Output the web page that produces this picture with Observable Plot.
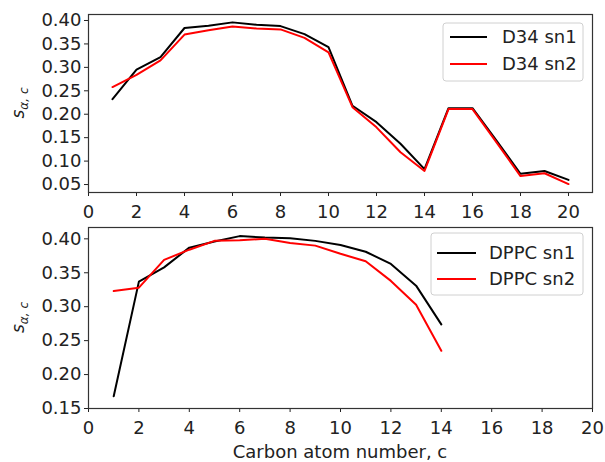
<!DOCTYPE html>
<html>
<head>
<meta charset="utf-8">
<script src="https://cdn.jsdelivr.net/npm/d3@7"></script>
<script src="https://cdn.jsdelivr.net/npm/@observablehq/plot@0.6"></script>
<style>
  html, body { margin: 0; padding: 0; background: #fff; }
  #chart { width: 605px; height: 462px; position: relative; }
  #chart svg { display: block; }
</style>
</head>
<body>
<div id="chart"></div>
<script>
// Carbon positions along each chain
const carbonD34 = [1, 2, 3, 4, 5, 6, 7, 8, 9, 10, 11, 12, 13, 14, 15, 16, 17, 18, 19, 20];
const carbonDPPC = [1, 2, 3, 4, 5, 6, 7, 8, 9, 10, 11, 12, 13, 14];

// Order parameters per carbon
const d34Sn1 = [0.232, 0.295, 0.322, 0.384, 0.389, 0.396, 0.391, 0.388, 0.371, 0.343, 0.218, 0.183, 0.137, 0.083, 0.213, 0.213, 0.144, 0.073, 0.079, 0.060];
const d34Sn2 = [0.258, 0.284, 0.315, 0.370, 0.379, 0.387, 0.383, 0.381, 0.363, 0.332, 0.215, 0.172, 0.119, 0.079, 0.211, 0.211, 0.140, 0.068, 0.074, 0.051];
const dppcSn1 = [0.168, 0.337, 0.358, 0.387, 0.396, 0.404, 0.402, 0.401, 0.397, 0.391, 0.381, 0.363, 0.331, 0.274];
const dppcSn2 = [0.323, 0.328, 0.369, 0.384, 0.397, 0.398, 0.400, 0.394, 0.390, 0.378, 0.367, 0.338, 0.303, 0.235];

// Axis ticks
const xTicks = [0, 2, 4, 6, 8, 10, 12, 14, 16, 18, 20];
const yTicksTop = [0.05, 0.10, 0.15, 0.20, 0.25, 0.30, 0.35, 0.40];
const yTicksBottom = [0.15, 0.20, 0.25, 0.30, 0.35, 0.40];

const seriesColors = ["#000000", "#ff0000"];
const FONT = "DejaVu Sans, sans-serif";

function rows(xs, ys) { return xs.map((c, i) => ({c, s: ys[i]})); }

function panel({height, marginTop, marginBottom, xDomain, yDomain, yTicks, series, labels, legendBox}) {
  const svg = Plot.plot({
    width: 605,
    height,
    marginLeft: 88,
    marginRight: 13,
    marginTop,
    marginBottom,
    style: {fontFamily: FONT, fontSize: "18px", color: "#222", background: "white", overflow: "visible"},
    x: {domain: xDomain, ticks: xTicks, tickFormat: d => String(d), label: null, tickSize: 4, tickPadding: 9},
    y: {domain: yDomain, ticks: yTicks, tickFormat: d3.format(".2f"), label: null, tickSize: 4, tickPadding: 3},
    marks: [
      ...series.map((s, i) => Plot.lineY(s, {x: "c", y: "s", stroke: seriesColors[i], strokeWidth: 2})),
      Plot.frame({stroke: "#333", strokeWidth: 1.2})
    ]
  });

  const sel = d3.select(svg);

  // y-axis title: s with subscript alpha, c
  const cy = marginTop + (height - marginTop - marginBottom) / 2;
  const t = sel.append("text")
    .attr("transform", `translate(24,${cy}) rotate(-90)`)
    .attr("text-anchor", "middle")
    .attr("font-family", FONT)
    .attr("font-style", "italic")
    .attr("fill", "#222");
  t.append("tspan").attr("font-size", 17).text("s");
  t.append("tspan").attr("font-size", 12).attr("dy", 4).text("α, c");

  // legend
  const g = sel.append("g").attr("text-anchor", "start");
  g.append("rect")
    .attr("x", legendBox.x).attr("y", legendBox.y)
    .attr("width", legendBox.w).attr("height", legendBox.h)
    .attr("rx", 3)
    .attr("fill", "white").attr("fill-opacity", 0.85)
    .attr("stroke", "#d0d0d0");
  labels.forEach((lab, i) => {
    const y = legendBox.y + legendBox.row0 + i * legendBox.step;
    g.append("line")
      .attr("x1", legendBox.x + legendBox.lx0).attr("x2", legendBox.x + legendBox.lx1)
      .attr("y1", y).attr("y2", y)
      .attr("stroke", seriesColors[i]).attr("stroke-width", 2);
    g.append("text")
      .attr("x", legendBox.x + legendBox.tx).attr("y", y)
      .attr("dy", "0.35em")
      .attr("text-anchor", "start")
      .attr("font-family", FONT).attr("font-size", 18)
      .attr("fill", "#222")
      .text(lab);
  });
  return svg;
}

const topPanel = panel({
  height: 222, marginTop: 14, marginBottom: 30,
  xDomain: [0, 21], yDomain: [0.033, 0.4128], yTicks: yTicksTop,
  series: [rows(carbonD34, d34Sn1), rows(carbonD34, d34Sn2)],
  labels: ["D34 sn1", "D34 sn2"],
  legendBox: {x: 443, y: 23, w: 140, h: 58, row0: 14, step: 27, lx0: 7, lx1: 44, tx: 59}
});

const bottomPanel = panel({
  height: 240, marginTop: 5, marginBottom: 54,
  xDomain: [0, 20], yDomain: [0.15, 0.4167], yTicks: yTicksBottom,
  series: [rows(carbonDPPC, dppcSn1), rows(carbonDPPC, dppcSn2)],
  labels: ["DPPC sn1", "DPPC sn2"],
  legendBox: {x: 431, y: 11, w: 152, h: 62, row0: 20, step: 26, lx0: 6, lx1: 45, tx: 58}
});

// shared x-axis title
d3.select(bottomPanel).append("text")
  .attr("x", 340).attr("y", 236)
  .attr("text-anchor", "middle")
  .attr("font-family", FONT).attr("font-size", 18)
  .attr("fill", "#222")
  .text("Carbon atom number, c");

const chart = document.getElementById("chart");
chart.appendChild(topPanel);
chart.appendChild(bottomPanel);
</script>
</body>
</html>
